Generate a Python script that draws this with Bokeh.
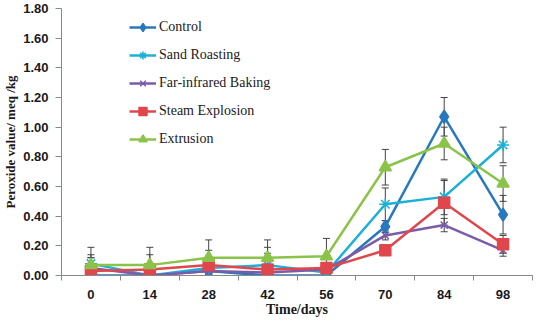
from bokeh.plotting import figure
from bokeh.models import (ColumnDataSource, Whisker, TeeHead, FixedTicker, Legend,
                          LegendItem, NumeralTickFormatter, Range1d)
from bokeh.embed import file_html
from bokeh.resources import INLINE

days = [0, 14, 28, 42, 56, 70, 84, 98]
day_labels = ["0", "14", "28", "42", "56", "70", "84", "98"]
y_ticks = [0.0, 0.2, 0.4, 0.6, 0.8, 1.0, 1.2, 1.4, 1.6, 1.8]

names = ["Control", "Sand Roasting", "Far-infrared Baking", "Steam Explosion", "Extrusion"]

control = [0.00, 0.00, 0.03, 0.00, 0.00, 0.33, 1.07, 0.41]
sand_roasting = [0.08, 0.00, 0.05, 0.07, 0.02, 0.48, 0.53, 0.88]
far_infrared = [0.05, 0.00, 0.03, 0.02, 0.04, 0.27, 0.34, 0.17]
steam_explosion = [0.03, 0.04, 0.07, 0.04, 0.05, 0.17, 0.49, 0.21]
extrusion = [0.07, 0.07, 0.12, 0.12, 0.13, 0.73, 0.89, 0.62]

control_err = [0.00, 0.00, 0.02, 0.00, 0.00, 0.04, 0.13, 0.13]
sand_roasting_err = [0.06, 0.02, 0.04, 0.08, 0.02, 0.11, 0.12, 0.12]
far_infrared_err = [0.07, 0.01, 0.02, 0.03, 0.02, 0.03, 0.045, 0.04]
steam_explosion_err = [0.09, 0.10, 0.10, 0.15, 0.03, 0.02, 0.15, 0.06]
extrusion_err = [0.12, 0.12, 0.12, 0.12, 0.12, 0.12, 0.11, 0.12]

values = [control, sand_roasting, far_infrared, steam_explosion, extrusion]
errors = [control_err, sand_roasting_err, far_infrared_err, steam_explosion_err, extrusion_err]
colors = ["#2878C0", "#1AB0D8", "#7D5BA6", "#E0474C", "#8BC34A"]
markers = ["diamond", "asterisk", "x", "square", "triangle"]
sizes = [13, 12, 10, 11, 12]

p = figure(width=534, height=319, output_backend="svg", toolbar_location=None,
           x_range=Range1d(-7, 105), y_range=Range1d(0, 1.8),
           min_border_left=0, min_border_right=2, min_border_top=8, min_border_bottom=0)
p.outline_line_color = None
p.xgrid.visible = False
p.ygrid.visible = False
p.background_fill_color = "white"

# x axis
xa = p.xaxis[0]
xa.ticker = FixedTicker(ticks=days, minor_ticks=[d - 7 for d in days] + [days[-1] + 7])
xa.major_label_overrides = {d: l for d, l in zip(days, day_labels)}
xa.major_tick_line_color = None
xa.major_tick_out = 0
xa.major_tick_in = 0
xa.minor_tick_out = 5
xa.minor_tick_in = 0
xa.minor_tick_line_color = "#888888"
xa.axis_line_color = "#888888"
xa.major_label_standoff = 9
xa.major_label_text_font = "Liberation Sans"
xa.major_label_text_font_style = "bold"
xa.major_label_text_font_size = "13px"
xa.major_label_text_color = "#1a1a1a"
xa.axis_label = "Time/days"
xa.axis_label_text_font = "Liberation Serif"
xa.axis_label_text_font_style = "bold"
xa.axis_label_text_font_size = "14px"
xa.axis_label_text_color = "#1a1a1a"
xa.axis_label_standoff = 0

# y axis
ya = p.yaxis[0]
ya.ticker = FixedTicker(ticks=y_ticks, minor_ticks=[])
ya.formatter = NumeralTickFormatter(format="0.00")
ya.major_tick_out = 6
ya.major_tick_in = 0
ya.major_tick_line_color = "#888888"
ya.minor_tick_line_color = None
ya.axis_line_color = "#888888"
ya.major_label_standoff = 7
ya.major_label_text_font = "Liberation Sans"
ya.major_label_text_font_style = "bold"
ya.major_label_text_font_size = "13px"
ya.major_label_text_color = "#1a1a1a"
ya.axis_label = "Peroxide value/ meq /kg"
ya.axis_label_text_font = "Liberation Serif"
ya.axis_label_text_font_style = "bold"
ya.axis_label_text_font_size = "13px"
ya.axis_label_text_color = "#1a1a1a"
ya.axis_label_standoff = 2

# error bars
for vals, errs in zip(values, errors):
    src = ColumnDataSource(dict(x=days,
                                upper=[v + e for v, e in zip(vals, errs)],
                                lower=[v - e for v, e in zip(vals, errs)]))
    w = Whisker(base="x", upper="upper", lower="lower", source=src,
                line_color="#444444", line_width=1,
                upper_head=TeeHead(size=7, line_color="#444444", line_width=1),
                lower_head=TeeHead(size=7, line_color="#444444", line_width=1))
    p.add_layout(w)

items = []
for name, vals, col, mk, sz in zip(names, values, colors, markers, sizes):
    src = ColumnDataSource(dict(x=days, y=vals))
    lr = p.line("x", "y", source=src, line_color=col, line_width=2.5)
    sr = p.scatter("x", "y", source=src, marker=mk, size=sz, fill_color=col,
                   line_color=col, line_width=1.5)
    items.append(LegendItem(label=name, renderers=[lr, sr]))

legend = Legend(items=items, location=(68, 126))
legend.label_text_font = "Liberation Serif"
legend.label_text_font_size = "14px"
legend.label_text_color = "#1a1a1a"
legend.glyph_width = 27
legend.glyph_height = 20
legend.label_height = 20
legend.label_standoff = 3
legend.spacing = 8
legend.padding = 0
legend.margin = 0
legend.border_line_color = None
legend.background_fill_alpha = 0
p.add_layout(legend)

open("out.html", "w").write(file_html(p, INLINE))
